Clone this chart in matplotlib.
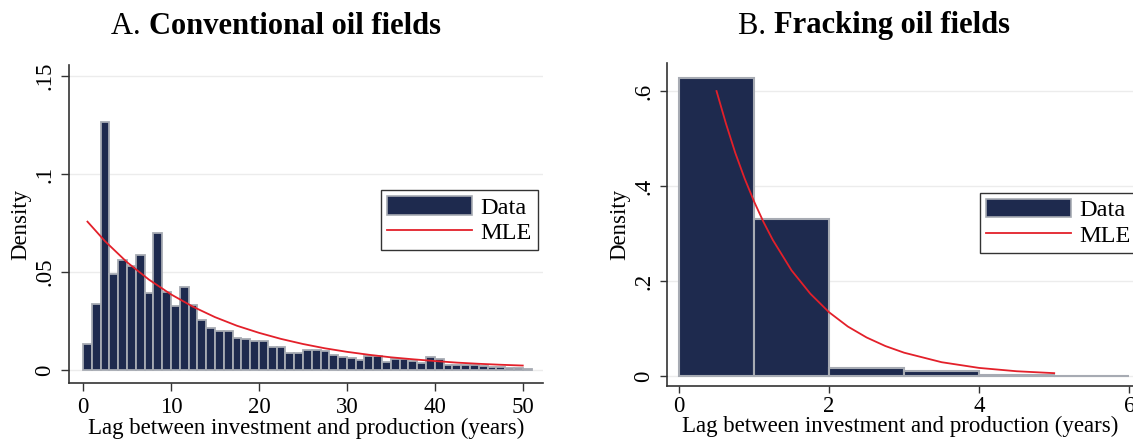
import matplotlib
matplotlib.use('Agg')
import matplotlib.pyplot as plt
from matplotlib.patches import Patch
from matplotlib.lines import Line2D

# conventional oil fields: density per 1-year bin, starting at 0
conv_bins = list(range(0, 51))
conv_density = [0.0132, 0.0337, 0.1263, 0.0488, 0.0563, 0.0529, 0.0585, 0.0391, 0.0698, 0.0400,
                0.0327, 0.0422, 0.0330, 0.0255, 0.0213, 0.0200, 0.0200, 0.0162, 0.0160, 0.0150,
                0.0146, 0.0119, 0.0119, 0.0088, 0.0085, 0.0102, 0.0102, 0.0099, 0.0077, 0.0065,
                0.0064, 0.0051, 0.0071, 0.0070, 0.0043, 0.0058, 0.0058, 0.0044, 0.0037, 0.0065,
                0.0054, 0.0027, 0.0024, 0.0024, 0.0024, 0.0020, 0.0014, 0.0014, 0.0009, 0.0009,
                0.0007]
conv_mle_x = [0.5, 2.5, 5, 7.5, 10, 12.5, 15, 17.5, 20, 22.5, 25, 27.5, 30, 32.5, 35,
              37.5, 40, 42.5, 45, 47.5, 50]
conv_mle_y = [0.0757, 0.0657, 0.0550, 0.0461, 0.0386, 0.0323, 0.0270, 0.0226, 0.0190, 0.0159,
              0.0133, 0.0111, 0.0093, 0.0078, 0.0065, 0.0055, 0.0046, 0.0038, 0.0032, 0.0027,
              0.0023]

# fracking oil fields
frack_bins = [0, 1, 2, 3, 4, 5]
frack_density = [0.628, 0.331, 0.018, 0.011, 0.003, 0.002]
frack_mle_x = [0.5, 0.625, 0.75, 0.875, 1, 1.125, 1.25, 1.5, 1.75, 2, 2.25, 2.5, 2.75, 3,
               3.5, 4, 4.5, 5]
frack_mle_y = [0.600, 0.532, 0.470, 0.416, 0.368, 0.325, 0.287, 0.223, 0.174, 0.135, 0.105,
               0.082, 0.064, 0.050, 0.030, 0.018, 0.011, 0.007]

conv_yticks = [0, 0.05, 0.1, 0.15]
conv_ylabels = ['0', '.05', '.1', '.15']
conv_xticks = [0, 10, 20, 30, 40, 50]
frack_yticks = [0, 0.2, 0.4, 0.6]
frack_ylabels = ['0', '.2', '.4', '.6']
frack_xticks = [0, 2, 4, 6]

navy = '#1e2a4e'
edge = '#a7abb3'
red = '#e3202a'

plt.rcParams['font.family'] = ['Liberation Serif', 'DejaVu Serif']

fig = plt.figure(figsize=(11.33, 4.40), dpi=100)
ax0 = fig.add_axes([69/1133, 1 - 383/440, (543 - 69)/1133, (383 - 65)/440])
ax1 = fig.add_axes([667/1133, 1 - 386/440, (1133 - 667)/1133, (386 - 63)/440])


def style(ax, yticks, ylabels, xticks, ticklen, xpad, labelpad):
  ax.set_yticks(yticks)
  ax.set_yticklabels(ylabels, rotation=90, va='center', fontsize=16.5)
  ax.set_xticks(xticks)
  ax.set_xticklabels([str(t) for t in xticks], fontsize=16.5)
  ax.grid(True, axis='y', color='#ececec', linewidth=1)
  ax.set_axisbelow(True)
  for s in ['top', 'right']:
    ax.spines[s].set_visible(False)
  for s in ['left', 'bottom']:
    ax.spines[s].set_color('#333333')
    ax.spines[s].set_linewidth(1.2)
  ax.tick_params(direction='out', length=ticklen, width=1, color='#333333', pad=4)
  ax.tick_params(axis='x', pad=xpad)
  ax.set_xlabel('Lag between investment and production (years)', fontsize=16.5, labelpad=labelpad)
  ax.set_ylabel('Density', fontsize=16.5, labelpad=2)


ax0.bar(conv_bins, conv_density, width=1, align='edge', color=navy, edgecolor=edge, linewidth=1.3)
ax0.plot(conv_mle_x, conv_mle_y, color=red, linewidth=1.3)
ax0.set_xlim(-1.6, 52.3)
ax0.set_ylim(-0.0066, 0.1556)
style(ax0, conv_yticks, conv_ylabels, conv_xticks, 6, 4, 0)

ax1.bar(frack_bins, frack_density, width=1, align='edge', color=navy, edgecolor=edge, linewidth=1.5)
ax1.plot(frack_mle_x, frack_mle_y, color=red, linewidth=1.3)
ax1.set_xlim(-0.16, 6.05)
ax1.set_ylim(-0.020, 0.659)
style(ax1, frack_yticks, frack_ylabels, frack_xticks, 5, 2, -1)

handles = [Patch(facecolor=navy, edgecolor=edge, linewidth=1.2),
           Line2D([0], [0], color=red, linewidth=1.3)]
for anchor in [(381/1133, 1 - 190/440), (980/1133, 1 - 192.6/440)]:
  fig.legend(handles, ['Data', 'MLE'], loc='upper left', bbox_to_anchor=anchor,
             fontsize=17.5, frameon=True, fancybox=False, edgecolor='black',
             handlelength=3.5, handleheight=0.8, handletextpad=0.35,
             borderpad=0.25, labelspacing=0.1, borderaxespad=0)

# titles: regular prefix + bold name
renderer = fig.canvas.get_renderer()
for cx, pre, name in [(276, 'A. ', 'Conventional oil fields'), (874, 'B. ', 'Fracking oil fields')]:
  t1 = fig.text(0, 1 - 26/440, pre, fontsize=22, va='center', ha='left')
  t2 = fig.text(0, 1 - 26/440, name, fontsize=22, va='center', ha='left', fontweight='bold')
  w1 = t1.get_window_extent(renderer).width
  w2 = t2.get_window_extent(renderer).width
  x0 = cx - (w1 + w2) / 2
  t1.set_x(x0 / 1133)
  t2.set_x((x0 + w1) / 1133)

fig.savefig('out.png', dpi=100)
